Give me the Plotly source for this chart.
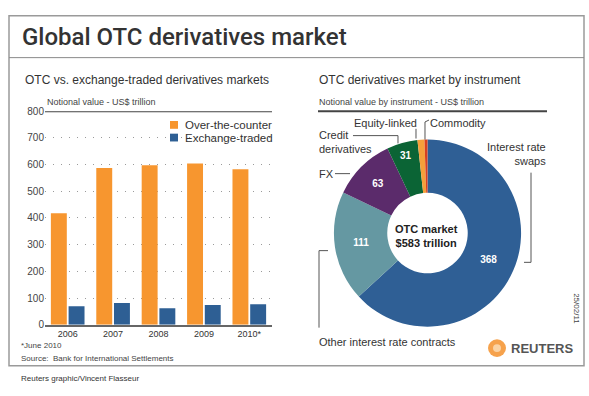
import plotly.graph_objects as go

W, H = 589, 396

# ---- data ----
years = ["2006", "2007", "2008", "2009", "2010*"]
otc = [418, 587, 598, 604, 583]
exchange = [69, 81, 62, 74, 77]

instruments = ["Interest rate swaps", "Other interest rate contracts", "FX",
               "Credit derivatives", "Equity-linked", "Commodity"]
inst_values = [368, 111, 63, 31, 7, 3]
inst_colors = ["#2f5f95", "#6598a2", "#5b2b6b", "#0b6435", "#f6a03a", "#d8401f"]
y_ticks = [0, 100, 200, 300, 400, 500, 600, 700, 800]
series_names = ["Over-the-counter", "Exchange-traded"]

ORANGE = "#f7962f"
BLUE = "#2e5f94"
FONT = "Liberation Sans"


def px(x):
    return x / W


def py(y):
    return 1 - y / H


fig = go.Figure()
fig.add_trace(go.Bar(x=years, y=otc, name=series_names[0], marker_color=ORANGE,
                     marker_line_width=0, showlegend=False))
fig.add_trace(go.Bar(x=years, y=exchange, name=series_names[1], marker_color=BLUE,
                     marker_line_width=0, showlegend=False))

texts = [str(v) if v > 20 else "" for v in inst_values]
fig.add_trace(go.Pie(
    labels=instruments, values=inst_values, hole=0.43, sort=False,
    direction="clockwise", rotation=0,
    marker=dict(colors=inst_colors, line=dict(width=0)),
    text=texts, textinfo="text", textposition="inside",
    insidetextorientation="horizontal",
    textfont=dict(family=FONT, size=10, color="white", weight="bold"),
    domain=dict(x=[px(331), px(524)], y=[py(330), py(138)]),
    showlegend=False, hoverinfo="label+value",
))

fig.update_layout(
    width=W, height=H, margin=dict(l=0, r=0, t=0, b=0),
    paper_bgcolor="white", plot_bgcolor="white",
    barmode="group", bargap=0.22, bargroupgap=0.1,
    font=dict(family=FONT, color="#333"),
    xaxis=dict(domain=[px(45), px(272)], showline=True, linecolor="#666",
               linewidth=1.5, ticks="", showgrid=False,
               tickfont=dict(size=9, color="#333")),
    yaxis=dict(domain=[py(328), py(109)], range=[0, 800], tickvals=y_ticks,
               showgrid=True, gridcolor="#9a9a9a", griddash="1px,7px", gridwidth=1,
               zeroline=False, ticks="", tickfont=dict(size=10, color="#444"),
               showline=False),
)

shapes = []
# outer frame
shapes.append(dict(type="rect", xref="paper", yref="paper", x0=px(9), x1=px(584),
                   y0=py(370), y1=py(11), line=dict(color="#9a9a9a", width=1.5)))
# title separator
shapes.append(dict(type="line", xref="paper", yref="paper", x0=px(9), x1=px(584),
                   y0=py(54), y1=py(54), line=dict(color="#8a8a8a", width=1)))
# top rule of bar chart at 800
shapes.append(dict(type="line", xref="paper", yref="y", x0=px(45), x1=px(272),
                   y0=800, y1=800, line=dict(color="#444", width=2)))
# rule under right subtitle
shapes.append(dict(type="line", xref="paper", yref="paper", x0=px(318), x1=px(547),
                   y0=py(109), y1=py(109), line=dict(color="#444", width=2)))
# legend swatches
for (yc, col) in [(123, ORANGE), (136, BLUE)]:
    shapes.append(dict(type="rect", xref="paper", yref="paper", x0=px(170), x1=px(178),
                       y0=py(yc + 4), y1=py(yc - 4), fillcolor=col, line=dict(width=0)))


def path(points):
    s = "M " + " L ".join(f"{px(x):.5f} {py(y):.5f}" for x, y in points)
    return dict(type="path", xref="paper", yref="paper", path=s,
                line=dict(color="#555", width=1))


shapes += [
    path([(335, 173), (350, 173)]),                 # FX
    path([(353, 134), (398, 134), (398, 142)]),     # Credit
    path([(416, 127), (416, 137)]),                 # Equity
    path([(429, 118), (425, 120), (425, 138)]),     # Commodity
    path([(531, 172), (531, 264), (524, 264)]),     # IR swaps
    path([(328, 252), (319, 252), (319, 331)]),     # Other IR
]
# Reuters logo circle
shapes.append(dict(type="circle", xref="paper", yref="paper", x0=px(488), x1=px(506),
                   y0=py(361), y1=py(343), fillcolor="#f6a24c", line=dict(width=0)))
shapes.append(dict(type="circle", xref="paper", yref="paper", x0=px(493), x1=px(501),
                   y0=py(356), y1=py(348), fillcolor="#fbd3a4", line=dict(width=0)))
fig.update_layout(shapes=shapes)


def ann(text, x, y, size=11, xanchor="left", color="#333", align="left", **kw):
    return dict(text=text, x=px(x), y=py(y), xref="paper", yref="paper",
                xanchor=xanchor, yanchor="middle", showarrow=False, align=align,
                font=dict(size=size, color=color, family=kw.pop("family", FONT),
                          weight=kw.pop("weight", "normal")), **kw)


annotations = [
    ann("Global OTC derivatives market", 20, 33, size=24, color="#333",
        family="Roboto", weight=500),
    ann("OTC vs. exchange-traded derivatives markets", 23, 77, size=12),
    ann("OTC derivatives market by instrument", 317, 77, size=12),
    ann("Notional value - US$ trillion", 45, 100, size=9, color="#444"),
    ann("Notional value by instrument - US$ trillion", 317, 100, size=9, color="#444"),
    ann(series_names[0], 183, 123, size=11.5),
    ann(series_names[1], 183, 136, size=11.5),
    ann("*June 2010", 19, 349, size=8, color="#444"),
    ann("Source:  Bank for International Settlements", 19, 363, size=8, color="#444"),
    ann("Reuters graphic/Vincent Flasseur", 19, 383, size=8, color="#333"),
    ann("Interest rate<br>swaps", 548, 153, size=11, xanchor="right", align="right"),
    ann("Other interest rate contracts", 317, 346, size=11),
    ann("FX", 317, 173, size=11),
    ann("Credit<br>derivatives", 317, 141, size=11),
    ann("Equity-linked", 352, 121, size=11),
    ann("Commodity", 428, 121, size=11),
    ann("<b>OTC market<br>$583 trillion</b>", 426, 237, size=11, xanchor="center",
        align="center", color="#222"),
    ann("<b>REUTERS</b>", 509, 352, size=13, color="#555"),
    ann("25/02/11", 577, 311, size=8, xanchor="center", color="#444", textangle=90),
]
fig.update_layout(annotations=annotations)

fig.write_html("out.html", config={"displayModeBar": False},
               post_script="document.body.style.margin='0';document.body.style.overflow='hidden';")
